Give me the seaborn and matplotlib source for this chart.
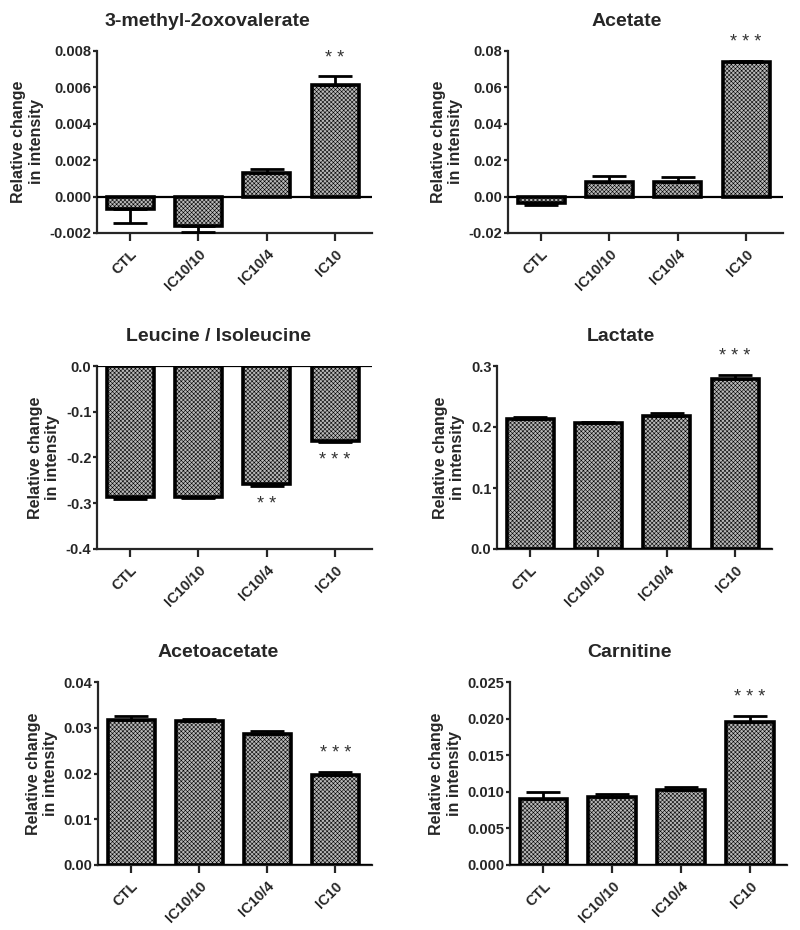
import numpy as np
import pandas as pd
import seaborn as sns
import matplotlib.pyplot as plt

groups = ["CTL", "IC10/10", "IC10/4", "IC10"]

# 3-methyl-2oxovalerate
methyl_mean = [-0.00068, -0.0016, 0.00128, 0.00614]
methyl_err = [0.00075, 0.00036, 0.00024, 0.00046]
methyl_stars = ["", "", "", "**"]

# Acetate
acetate_mean = [-0.0036, 0.0079, 0.0079, 0.0740]
acetate_err = [0.0008, 0.0036, 0.0031, 0.0005]
acetate_stars = ["", "", "", "***"]

# Leucine / Isoleucine
leucine_mean = [-0.2858, -0.2860, -0.2590, -0.1644]
leucine_err = [0.0050, 0.0035, 0.0040, 0.0020]
leucine_stars = ["", "", "**", "***"]

# Lactate
lactate_mean = [0.2133, 0.2068, 0.2177, 0.2793]
lactate_err = [0.0027, 0.0022, 0.0060, 0.0055]
lactate_stars = ["", "", "", "***"]

# Acetoacetate
acetoacetate_mean = [0.03178, 0.03156, 0.02873, 0.01978]
acetoacetate_err = [0.0007, 0.0003, 0.00065, 0.00058]
acetoacetate_stars = ["", "", "", "***"]

# Carnitine
carnitine_mean = [0.0090, 0.00923, 0.01018, 0.01955]
carnitine_err = [0.00095, 0.0005, 0.00041, 0.00081]
carnitine_stars = ["", "", "", "***"]

panels = [
    ("3-methyl-2oxovalerate", methyl_mean, methyl_err, methyl_stars,
     (-0.002, 0.008), np.arange(-0.002, 0.0081, 0.002), "{:.3f}"),
    ("Acetate", acetate_mean, acetate_err, acetate_stars,
     (-0.02, 0.08), np.arange(-0.02, 0.081, 0.02), "{:.2f}"),
    ("Leucine / Isoleucine", leucine_mean, leucine_err, leucine_stars,
     (-0.4, 0.0), np.arange(-0.4, 0.01, 0.1), "{:.1f}"),
    ("Lactate", lactate_mean, lactate_err, lactate_stars,
     (0.0, 0.3), np.arange(0.0, 0.31, 0.1), "{:.1f}"),
    ("Acetoacetate", acetoacetate_mean, acetoacetate_err, acetoacetate_stars,
     (0.0, 0.04), np.arange(0.0, 0.041, 0.01), "{:.2f}"),
    ("Carnitine", carnitine_mean, carnitine_err, carnitine_stars,
     (0.0, 0.025), np.arange(0.0, 0.0251, 0.005), "{:.3f}"),
]

# axes boxes in pixels: left, top, right, bottom
boxes = [
    (97, 51, 372, 233), (508, 51, 783, 233),
    (97, 366, 372, 549), (497, 366, 772, 549),
    (98, 682, 372, 865), (510, 682, 787, 865),
]
title_x = [0.40, 0.43, 0.44, 0.45, 0.44, 0.43]

sns.set_style("ticks")
plt.rcParams["font.family"] = ["Liberation Sans", "DejaVu Sans"]
plt.rcParams["font.weight"] = "bold"
plt.rcParams["hatch.linewidth"] = 0.4

W, H = 800, 930
fig = plt.figure(figsize=(8, 9.3), dpi=100)

for (title, mean, err, stars, ylim, yticks, fmt), box, tx in zip(panels, boxes, title_x):
    l, t, r, b = box
    ax = fig.add_axes([l / W, 1 - b / H, (r - l) / W, (b - t) / H])
    df = pd.DataFrame({"group": groups, "value": mean})
    sns.barplot(data=df, x="group", y="value", ax=ax, color="#b8b8b8",
                width=0.69, edgecolor="black", linewidth=2.6, errorbar=None)
    for p in ax.patches:
        p.set_hatch("xxxxxxxx")
        p.set_zorder(2)

    lo = [e if m < 0 else 0 for m, e in zip(mean, err)]
    hi = [e if m >= 0 else 0 for m, e in zip(mean, err)]
    ax.errorbar(range(len(groups)), mean, yerr=[lo, hi], fmt="none",
                ecolor="black", elinewidth=2, capsize=12, capthick=2, zorder=3)

    span = ylim[1] - ylim[0]
    for i, (m, e, s) in enumerate(zip(mean, err, stars)):
        if not s:
            continue
        if m >= 0:
            y = m + e + 0.1 * span
        else:
            y = m - e - 0.1 * span
        ax.text(i, y, " ".join(s), ha="center", va="center", fontsize=13,
                fontweight="normal", color="#333333")

    ax.axhline(0, color="black", lw=1.6, zorder=4)
    ax.set_xlim(-0.485, 3.54)
    ax.set_ylim(*ylim)
    ax.set_yticks(yticks)
    ax.set_yticklabels([fmt.format(round(v, 6) + 0.0) for v in yticks],
                       fontsize=10.5, fontweight="bold")
    ax.set_xticks(range(len(groups)))
    ax.set_xticklabels(groups, rotation=45, ha="right", rotation_mode="anchor",
                       fontsize=10.5, fontweight="bold")
    ax.set_xlabel("")
    ax.set_ylabel("Relative change\nin intensity", fontsize=11.5, fontweight="bold", labelpad=4)
    ax.set_title(title, fontsize=14, fontweight="bold", x=tx, pad=18)
    sns.despine(ax=ax)
    for sp in ["left", "bottom"]:
        ax.spines[sp].set_linewidth(1.6)
    ax.tick_params(axis="x", length=6, width=1.6, pad=4)
    ax.tick_params(axis="y", length=3, width=1.6, pad=1)

fig.savefig("out.png", dpi=100)
